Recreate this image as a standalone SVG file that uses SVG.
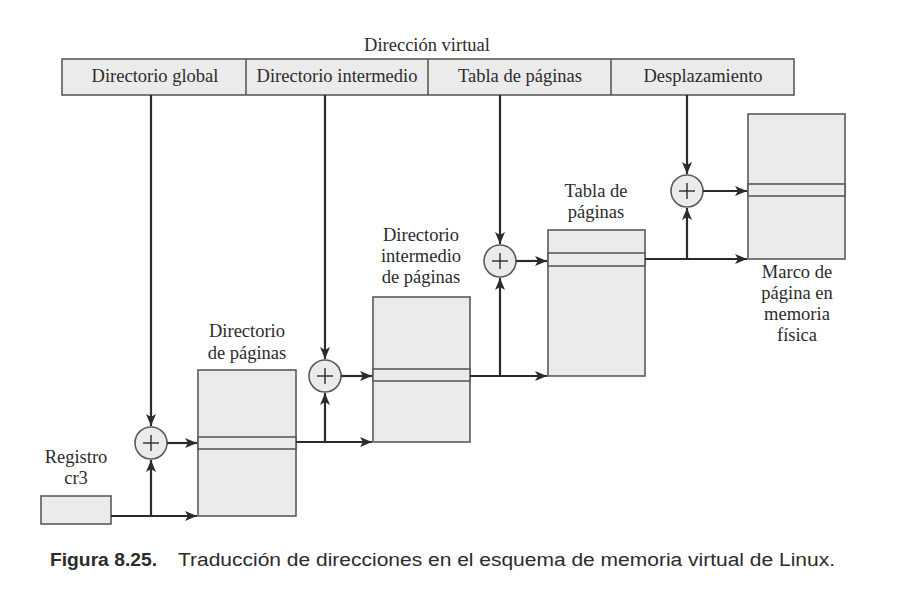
<svg xmlns="http://www.w3.org/2000/svg" width="921" height="609" viewBox="0 0 921 609">
<defs>
<marker id="ah" viewBox="0 0 12 10" refX="12" refY="5" markerWidth="12" markerHeight="10" markerUnits="userSpaceOnUse" orient="auto">
<path d="M0,0 L12,5 L0,10 L3,5 Z" fill="#2b2b2b"/>
</marker>
</defs>
<style>
.t{font-family:'Liberation Serif','DejaVu Serif',serif;font-size:18.5px;fill:#2b2b2b;text-anchor:middle}
.box{fill:#ebebeb;stroke:#5a5a5a;stroke-width:1.6}
.ar{fill:none;stroke:#2b2b2b;stroke-width:2.2;marker-end:url(#ah)}
.pl{stroke:#2b2b2b;stroke-width:1.4}
.cap{font-family:'Liberation Sans','DejaVu Sans',sans-serif;font-size:18px;fill:#2b2b2b}
</style>
<rect width="921" height="609" fill="#ffffff"/>

<g id="virtual-address">
<text class="t" x="427" y="51">Dirección virtual</text>
<rect class="box" x="62" y="59" width="732" height="36"/>
<line x1="246" y1="59" x2="246" y2="95" stroke="#5a5a5a" stroke-width="1.6"/>
<line x1="428" y1="59" x2="428" y2="95" stroke="#5a5a5a" stroke-width="1.6"/>
<line x1="611" y1="59" x2="611" y2="95" stroke="#5a5a5a" stroke-width="1.6"/>
<text class="t" x="155" y="82">Directorio global</text>
<text class="t" x="337" y="82">Directorio intermedio</text>
<text class="t" x="520" y="82">Tabla de páginas</text>
<text class="t" x="703" y="82">Desplazamiento</text>
</g>

<g id="cr3">
<rect class="box" x="41" y="496" width="70" height="28"/>
<text class="t" x="76" y="463">Registro</text>
<text class="t" x="76" y="484">cr3</text>
</g>

<g id="page-directory">
<rect class="box" x="198" y="370" width="98" height="146"/>
<rect class="box" x="198" y="437" width="98" height="12"/>
<text class="t" x="247" y="337">Directorio</text>
<text class="t" x="247" y="359">de páginas</text>
</g>

<g id="middle-directory">
<rect class="box" x="373" y="297" width="97" height="145"/>
<rect class="box" x="373" y="369" width="97" height="12"/>
<text class="t" x="421" y="241">Directorio</text>
<text class="t" x="421" y="262">intermedio</text>
<text class="t" x="421" y="283">de páginas</text>
</g>

<g id="page-table">
<rect class="box" x="548" y="230" width="97" height="146"/>
<rect class="box" x="548" y="253" width="97" height="13"/>
<text class="t" x="596" y="197">Tabla de</text>
<text class="t" x="596" y="218">páginas</text>
</g>

<g id="page-frame">
<rect class="box" x="748" y="114" width="97" height="145"/>
<rect class="box" x="748" y="184" width="97" height="12"/>
<text class="t" x="797" y="278">Marco de</text>
<text class="t" x="797" y="299">página en</text>
<text class="t" x="797" y="320">memoria</text>
<text class="t" x="797" y="341">física</text>
</g>

<g id="adder1">
<circle class="box" cx="151" cy="443" r="16"/>
<line class="pl" x1="143" y1="443" x2="159" y2="443"/>
<line class="pl" x1="151" y1="435" x2="151" y2="451"/>
</g>
<g id="adder2">
<circle class="box" cx="325" cy="376" r="16"/>
<line class="pl" x1="317" y1="376" x2="333" y2="376"/>
<line class="pl" x1="325" y1="368" x2="325" y2="384"/>
</g>
<g id="adder3">
<circle class="box" cx="500" cy="261" r="16"/>
<line class="pl" x1="492" y1="261" x2="508" y2="261"/>
<line class="pl" x1="500" y1="253" x2="500" y2="269"/>
</g>
<g id="adder4">
<circle class="box" cx="687" cy="191" r="16"/>
<line class="pl" x1="679" y1="191" x2="695" y2="191"/>
<line class="pl" x1="687" y1="183" x2="687" y2="199"/>
</g>

<g id="connectors">
<line class="ar" x1="151" y1="95" x2="151" y2="426"/>
<line class="ar" x1="325" y1="95" x2="325" y2="359"/>
<line class="ar" x1="500" y1="95" x2="500" y2="244"/>
<line class="ar" x1="687" y1="95" x2="687" y2="174"/>

<line class="ar" x1="111" y1="516" x2="197" y2="516"/>
<line class="ar" x1="151" y1="516" x2="151" y2="460"/>
<line class="ar" x1="167" y1="443" x2="197" y2="443"/>

<line class="ar" x1="296" y1="442" x2="372" y2="442"/>
<line class="ar" x1="325" y1="442" x2="325" y2="393"/>
<line class="ar" x1="341" y1="376" x2="372" y2="376"/>

<line class="ar" x1="470" y1="376" x2="547" y2="376"/>
<line class="ar" x1="500" y1="376" x2="500" y2="278"/>
<line class="ar" x1="516" y1="261" x2="547" y2="261"/>

<line class="ar" x1="645" y1="259" x2="747" y2="259"/>
<line class="ar" x1="687" y1="259" x2="687" y2="208"/>
<line class="ar" x1="703" y1="191" x2="747" y2="191"/>
</g>

<g id="caption">
<text class="cap" x="50" y="566" font-weight="bold" textLength="107" lengthAdjust="spacingAndGlyphs">Figura 8.25.</text>
<text class="cap" x="178" y="566" textLength="657" lengthAdjust="spacingAndGlyphs">Traducción de direcciones en el esquema de memoria virtual de Linux.</text>
</g>
</svg>
